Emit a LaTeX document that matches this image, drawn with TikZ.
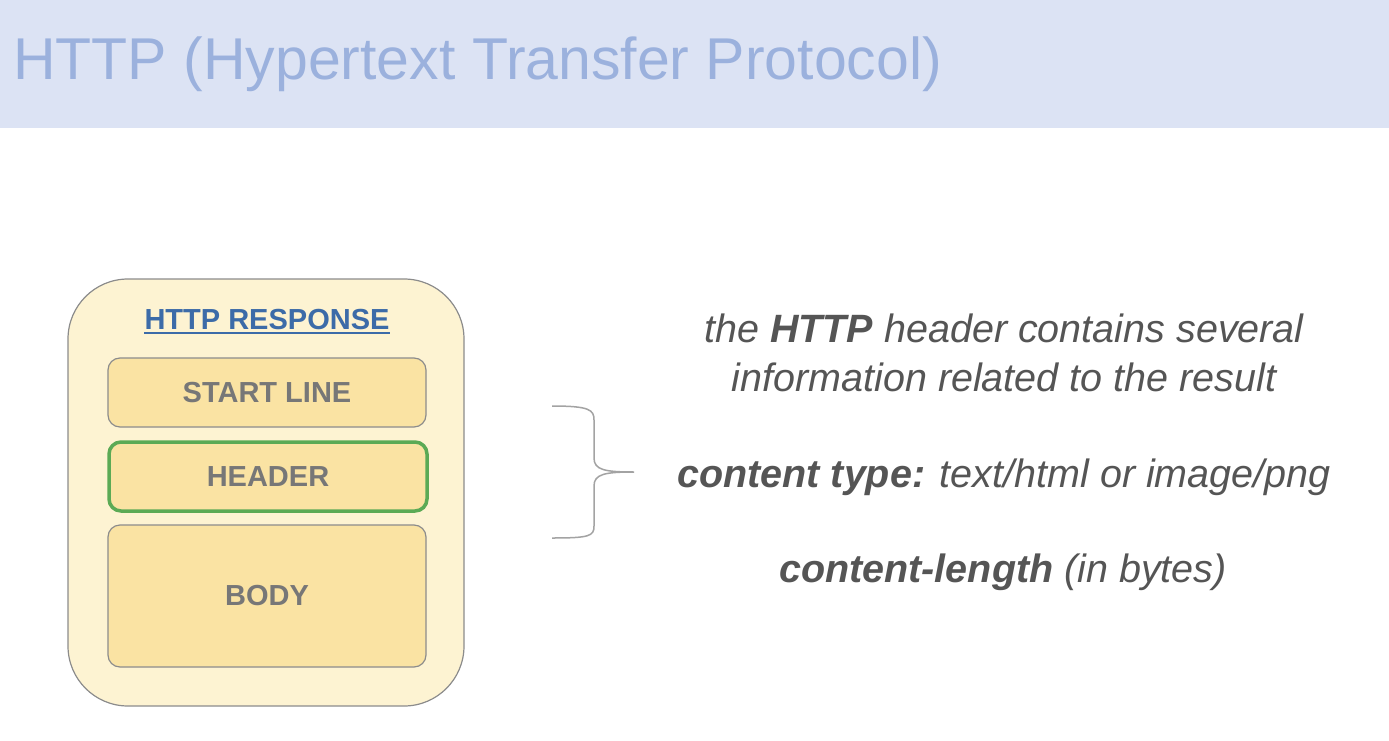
\documentclass[tikz,border=0pt]{standalone}
\usepackage{fontspec}
\setmainfont{Liberation Sans}
\definecolor{band}{HTML}{DCE3F4}
\definecolor{titlec}{HTML}{9BB1DD}
\definecolor{outerf}{HTML}{FDF3D2}
\definecolor{innerf}{HTML}{FAE3A3}
\definecolor{edge}{HTML}{8C8C8C}
\definecolor{boxtext}{HTML}{777777}
\definecolor{bluec}{HTML}{3C6BA8}
\definecolor{greenc}{HTML}{5BAA55}
\definecolor{bodytext}{HTML}{555555}
\tikzset{
  part/.style={draw=edge, line width=1.2pt, fill=innerf, rounded corners=12pt, inner sep=0pt,
     font=\fontsize{29}{34}\selectfont\bfseries, text=boxtext},
  info/.style={text=bodytext, font=\fontsize{39.5}{48}\selectfont\itshape, align=center, inner sep=0pt}
}
\begin{document}
\begin{tikzpicture}[x=1pt,y=-1pt]
\useasboundingbox (0,0) rectangle (1389,741);
\fill[white] (0,0) rectangle (1389,741);
\fill[band] (0,0) rectangle (1389,128);
\node[anchor=base west, inner sep=0pt, text=titlec, font=\fontsize{59}{66}\selectfont] (title) at (13,80) {HTTP (Hypertext Transfer Protocol)};
\draw[edge, line width=1.2pt, fill=outerf, rounded corners=60pt] (68,279) rectangle (464,706);
\node[anchor=base, inner sep=0pt, text=bluec, font=\fontsize{29}{34}\selectfont\bfseries] (resp) at (267,329) {HTTP RESPONSE};
\draw[bluec, line width=1.5pt] (resp.base west) ++(0,4) coordinate (ul1) -- (resp.base east |- ul1);
\node[part, minimum width=318pt, minimum height=69pt] (start) at (267,392.5) {START LINE};
\node[part, draw=greenc, line width=3.5pt, minimum width=318pt, minimum height=69pt] (header) at (268,476.5) {HEADER};
\node[part, minimum width=318pt, minimum height=142pt] (body) at (267,596) {BODY};
\draw[edge!80, line width=1.5pt] (552,406) .. controls (590,406) and (594,410) .. (594,420) -- (594,458) .. controls (594,470) and (605,472) .. (634,472) .. controls (605,472) and (594,474) .. (594,486) -- (594,526) .. controls (594,536) and (590,538) .. (552,538);
\node[info, anchor=base] (l1) at (1004,342) {the \textbf{HTTP} header contains several};
\node[info, anchor=base] (l2) at (1004,391) {information related to the result};
\node[info, anchor=base] (l3) at (1004,487) {\textbf{content type:} text/html or image/png};
\node[info, anchor=base] (l4) at (1003,582) {\textbf{content-length} (in bytes)};
\end{tikzpicture}
\end{document}
